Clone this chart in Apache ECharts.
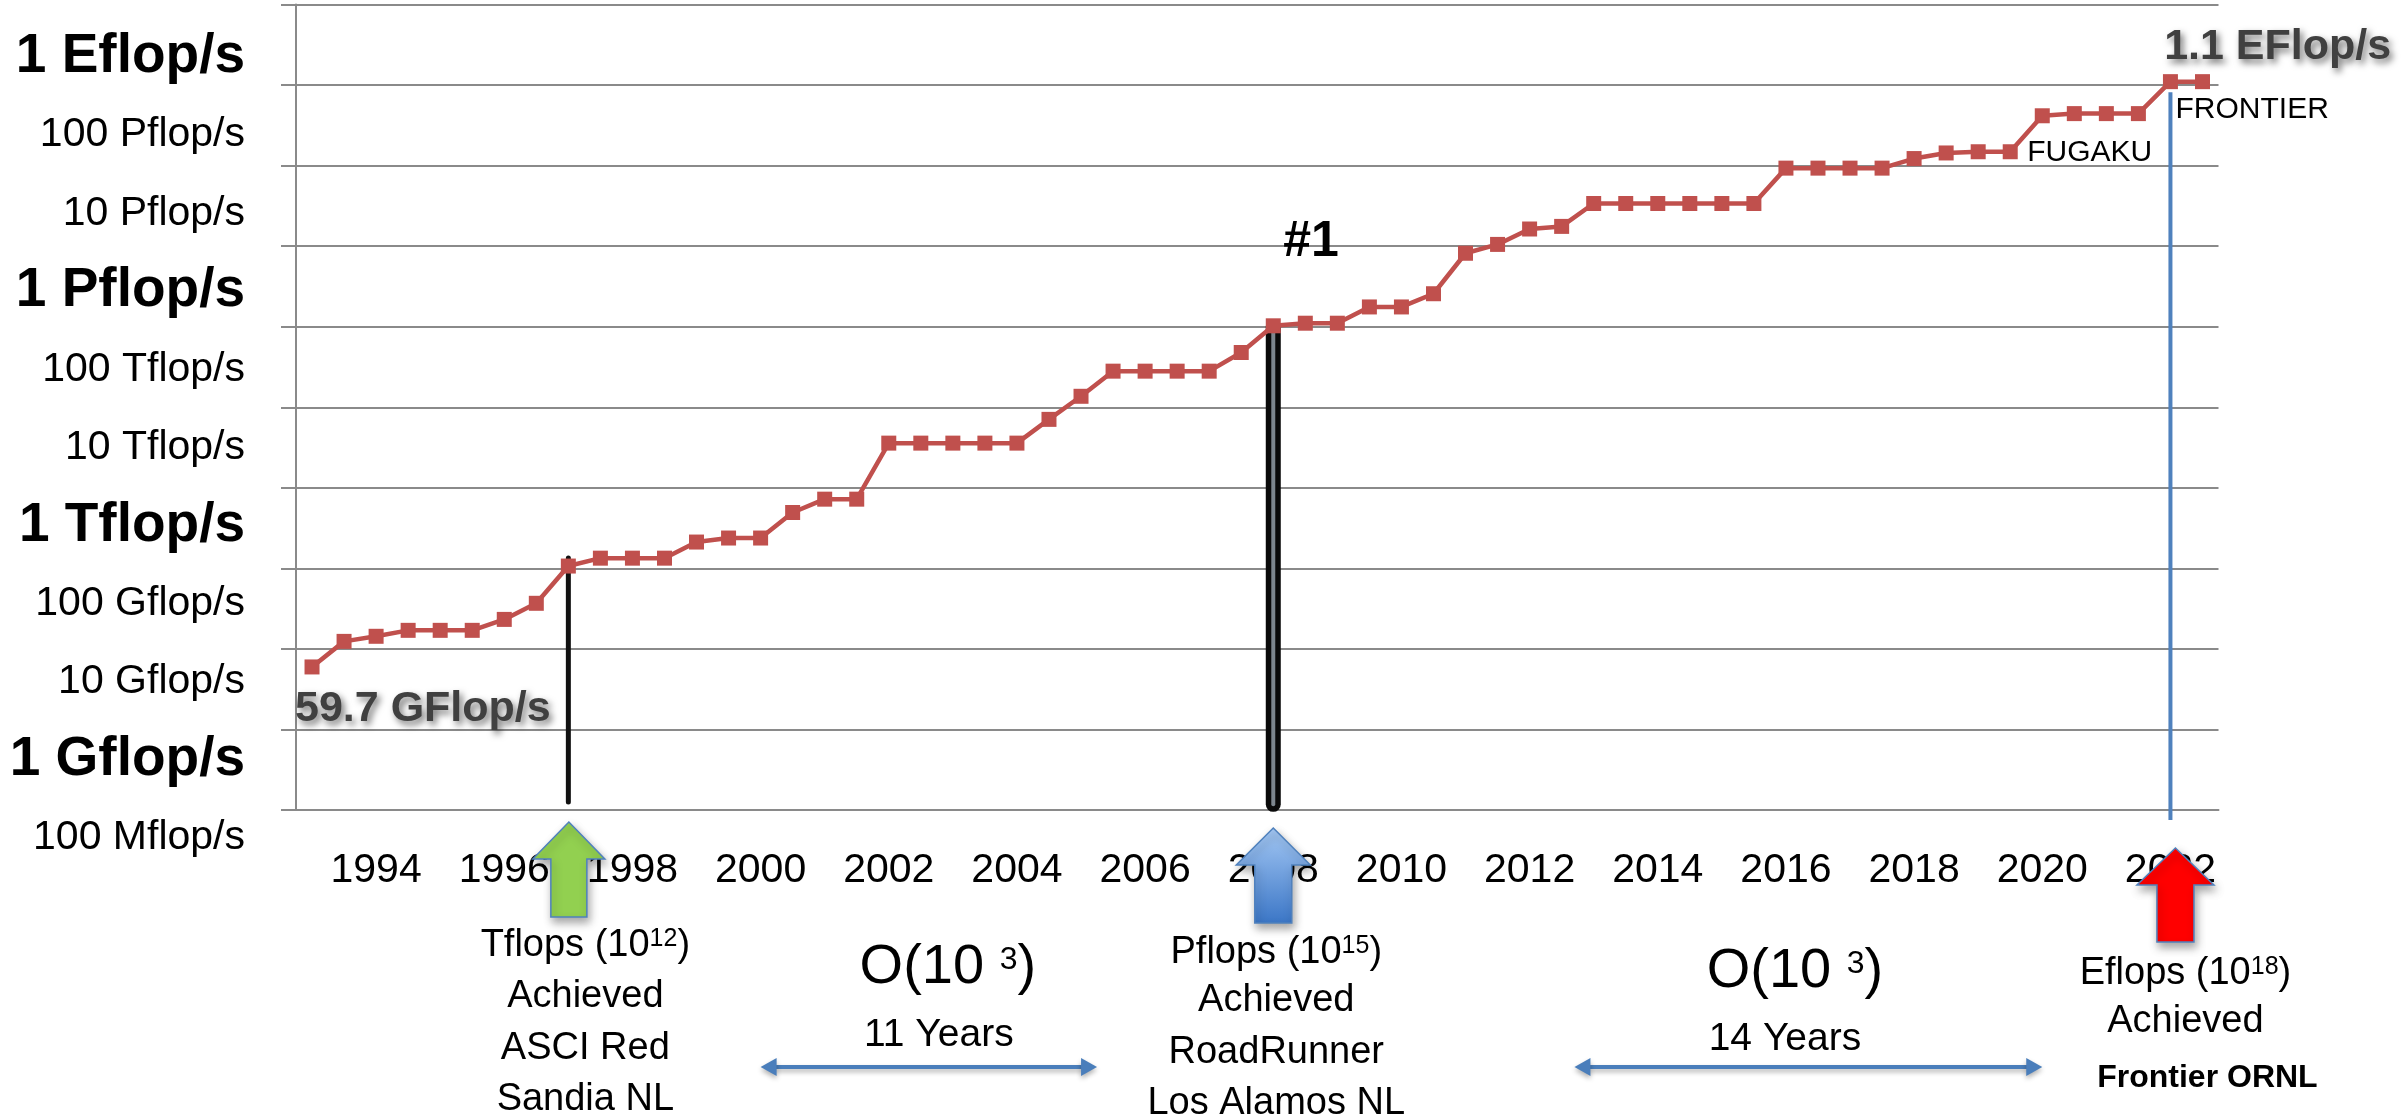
<!DOCTYPE html>
<html>
<head>
<meta charset="utf-8">
<title>TOP500 #1 performance, 1993–2022</title>
<script src="https://cdn.jsdelivr.net/npm/echarts@6/dist/echarts.min.js"></script>
<style>
  html, body { margin: 0; padding: 0; background: #ffffff; }
  #chart { width: 2405px; height: 1117px; }
</style>
</head>
<body>
<div id="chart"></div>
<script>
// TOP500 list editions (June / November) from the first list onwards
const lists = [
  '1993/06','1993/11','1994/06','1994/11','1995/06','1995/11','1996/06','1996/11',
  '1997/06','1997/11','1998/06','1998/11','1999/06','1999/11','2000/06','2000/11',
  '2001/06','2001/11','2002/06','2002/11','2003/06','2003/11','2004/06','2004/11',
  '2005/06','2005/11','2006/06','2006/11','2007/06','2007/11','2008/06','2008/11',
  '2009/06','2009/11','2010/06','2010/11','2011/06','2011/11','2012/06','2012/11',
  '2013/06','2013/11','2014/06','2014/11','2015/06','2015/11','2016/06','2016/11',
  '2017/06','2017/11','2018/06','2018/11','2019/06','2019/11','2020/06','2020/11',
  '2021/06','2021/11','2022/06','2022/11'
];

// Rmax of the #1 system on each list, in GFlop/s
const rmaxGflops = [
  59.7, 124.0, 143.4, 170.0, 170.0, 170.0, 232.4, 368.2,
  1068, 1338, 1338, 1338, 2121, 2379, 2379, 4938,
  7226, 7226, 35860, 35860, 35860, 35860, 35860, 70720,
  136800, 280600, 280600, 280600, 280600, 478200, 1026000, 1105000,
  1105000, 1759000, 1759000, 2566000, 8162000, 10510000, 16324750, 17590000,
  33862700, 33862700, 33862700, 33862700, 33862700, 33862700, 93014600, 93014600,
  93014600, 93014600, 122300000, 143500000, 148600000, 148600000, 415530000, 442010000,
  442010000, 442010000, 1102000000, 1102000000
];

// Performance scale captions, 10^8 ... 10^18 flop/s
const yTickLabels = [
  '100 Mflop/s', '1 Gflop/s', '10 Gflop/s', '100 Gflop/s', '1 Tflop/s', '10 Tflop/s',
  '100 Tflop/s', '1 Pflop/s', '10 Pflop/s', '100 Pflop/s', '1 Eflop/s'
];

// Notes attached to individual list entries
const pointNotes = [
  { list: '1993/06', text: '59.7 GFlop/s', kind: 'value' },
  { list: '2008/06', text: '#1',           kind: 'rank'  },
  { list: '2020/06', text: 'FUGAKU',       kind: 'name'  },
  { list: '2022/06', text: '1.1 EFlop/s',  kind: 'value' },
  { list: '2022/11', text: 'FRONTIER',     kind: 'name'  }
];

// Milestones marked under the time axis
const milestones = [
  { list: '1997/06', lines: ['Tflops (10{sup|12})', 'Achieved', 'ASCI Red', 'Sandia NL'] },
  { list: '2008/06', lines: ['Pflops (10{sup|15})', 'Achieved', 'RoadRunner', 'Los Alamos NL'] },
  { list: '2022/06', lines: ['Eflops (10{sup|18})', 'Achieved', '{b|Frontier ORNL}'] }
];

// Growth between milestones: factor 10^exp over the given years
const spans = [
  { exp: '3', years: '11 Years' },
  { exp: '3', years: '14 Years' }
];

const FONT = '"Liberation Sans", Arial, sans-serif';
const toExp = g => Math.log10(g * 1e9);   // GFlop/s -> log10(flop/s)

// label placement (relative to the marker box) and styling per note kind
const notePlacement = {
  '1993/06': [-9.5, 50],
  '2008/06': [17.5, -76],
  '2020/06': [-7.5, 44.2],
  '2022/06': [1.2, -27.5],
  '2022/11': [-19.5, 35.8]
};
const noteStyle = {
  value: { fontSize: 43, fontWeight: 'bold', color: '#404040',
           textShadowColor: 'rgba(0,0,0,0.55)', textShadowBlur: 7,
           textShadowOffsetX: 3, textShadowOffsetY: 4 },
  rank:  { fontSize: 50, fontWeight: 'bold', color: '#000000' },
  name:  { fontSize: 30, fontWeight: 'normal', color: '#000000' }
};

const seriesData = rmaxGflops.map((g, i) => {
  const item = { value: toExp(g) };
  const note = pointNotes.find(n => n.list === lists[i]);
  if (note) {
    item.label = Object.assign({
      show: true,
      position: notePlacement[note.list],
      align: 'left',
      verticalAlign: 'middle',
      fontFamily: FONT,
      formatter: note.text
    }, noteStyle[note.kind]);
  }
  return item;
});

const idx = name => lists.indexOf(name);
const GRID_COLOR = '#8a8a8a';

const chart = echarts.init(document.getElementById('chart'), null, { renderer: 'canvas' });

chart.setOption({
  animation: false,
  backgroundColor: '#ffffff',
  grid: [
    { left: 296, right: 186.5, top: 4.5, bottom: 307 },
    { left: 250, width: 10, top: 57, bottom: 279 }
  ],
  xAxis: [
    {
      type: 'category',
      gridIndex: 0,
      data: lists,
      boundaryGap: true,
      axisLine: { lineStyle: { color: GRID_COLOR, width: 2 } },
      axisTick: { interval: 1, length: 15, lineStyle: { color: GRID_COLOR, width: 2 } },
      axisLabel: {
        interval: i => i % 4 === 2,
        formatter: v => v.slice(0, 4),
        margin: 40,
        fontSize: 41,
        fontFamily: FONT,
        color: '#000000'
      },
      splitLine: { show: false }
    },
    { type: 'value', gridIndex: 1, show: false, min: 0, max: 1 }
  ],
  yAxis: [
    {
      type: 'value',
      gridIndex: 0,
      min: 9,
      max: 19,
      interval: 1,
      axisLine: { show: true, lineStyle: { color: GRID_COLOR, width: 2 } },
      axisTick: { show: true, length: 15, lineStyle: { color: GRID_COLOR, width: 2 } },
      axisLabel: { show: false },
      splitLine: { show: true, lineStyle: { color: GRID_COLOR, width: 2 } }
    },
    {
      // caption scale for the performance levels
      type: 'value',
      gridIndex: 1,
      min: 8,
      max: 18,
      interval: 1,
      axisLine: { show: false },
      axisTick: { show: false },
      splitLine: { show: false },
      axisLabel: {
        margin: 5,
        formatter: v => {
          const t = yTickLabels[Math.round(v - 8)];
          return t.startsWith('1 ') ? '{big|' + t + '}' : '{small|' + t + '}';
        },
        rich: {
          big:   { fontSize: 55, fontWeight: 'bold', fontFamily: FONT, color: '#000' },
          small: { fontSize: 41, fontFamily: FONT, color: '#000' }
        }
      }
    }
  ],
  series: [
    {
      // ASCI Red marker line
      type: 'line', xAxisIndex: 0, yAxisIndex: 0, clip: false, silent: true, z: 3,
      symbol: 'none',
      data: [[idx('1997/06'), 9.1], [idx('1997/06'), 12.13]],
      lineStyle: { color: '#111111', width: 5, cap: 'round' }
    },
    {
      // RoadRunner marker bar
      type: 'line', xAxisIndex: 0, yAxisIndex: 0, clip: false, silent: true, z: 3,
      symbol: 'none',
      data: [[idx('2008/06'), 9.07], [idx('2008/06'), 15.0]],
      lineStyle: { color: '#0a0a0a', width: 15, cap: 'round' }
    },
    {
      type: 'line', xAxisIndex: 0, yAxisIndex: 0, clip: false, silent: true, z: 3,
      symbol: 'none',
      data: [[idx('2008/06'), 9.07], [idx('2008/06'), 15.0]],
      lineStyle: { color: '#7d868e', width: 4, cap: 'round' }
    },
    {
      // Frontier marker line
      type: 'line', xAxisIndex: 0, yAxisIndex: 0, clip: false, silent: true, z: 3,
      symbol: 'none',
      data: [[idx('2022/06'), 8.876], [idx('2022/06'), 17.91]],
      lineStyle: { color: '#4f81bd', width: 4, cap: 'butt' }
    },
    {
      name: 'Rmax #1',
      type: 'line',
      xAxisIndex: 0,
      yAxisIndex: 0,
      z: 5,
      data: seriesData,
      symbol: 'rect',
      symbolSize: 15,
      lineStyle: { color: '#c0504d', width: 4.5 },
      itemStyle: { color: '#c0504d' },
      labelLayout: { hideOverlap: false }
    }
  ]
});

// ---- annotations below the time axis ----
const px = i => chart.convertToPixel({ xAxisIndex: 0 }, i);
const band = px(1) - px(0);
const axisY = chart.convertToPixel({ yAxisIndex: 0 }, 9);

const shadow = { shadowBlur: 8, shadowOffsetX: 2, shadowOffsetY: 5, shadowColor: 'rgba(0,0,0,0.35)' };

function upArrow(cx, tip, head, bottom, headHalf, shaftHalf, fill) {
  return {
    type: 'polygon',
    z: 10,
    shape: {
      points: [
        [cx, tip], [cx + headHalf, head], [cx + shaftHalf, head], [cx + shaftHalf, bottom],
        [cx - shaftHalf, bottom], [cx - shaftHalf, head], [cx - headHalf, head]
      ]
    },
    style: Object.assign({ fill: fill, stroke: '#4f81bd', lineWidth: 1.5 }, shadow)
  };
}

function textLine(x, y, text, size, weight) {
  return {
    type: 'text',
    z: 10,
    style: {
      x: x, y: y, text: text,
      fontSize: size, fontFamily: FONT, fontWeight: weight || 'normal',
      fill: '#000000', align: 'center', verticalAlign: 'middle',
      rich: {
        sup: { fontSize: 25, fontFamily: FONT, verticalAlign: 'top', fill: '#000' },
        b:   { fontSize: 32, fontFamily: FONT, fontWeight: 'bold', fill: '#000' }
      }
    }
  };
}

function doubleArrow(x1, x2, y) {
  const c = '#4a7ebb', L = 16, H = 9;
  const sh = { shadowBlur: 5, shadowOffsetY: 3, shadowColor: 'rgba(0,0,0,0.3)' };
  return [
    { type: 'line', z: 9, shape: { x1: x1 + L - 2, y1: y, x2: x2 - L + 2, y2: y },
      style: Object.assign({ stroke: c, lineWidth: 4 }, sh) },
    { type: 'polygon', z: 9, shape: { points: [[x1, y], [x1 + L, y - H], [x1 + L, y + H]] },
      style: Object.assign({ fill: c }, sh) },
    { type: 'polygon', z: 9, shape: { points: [[x2, y], [x2 - L, y - H], [x2 - L, y + H]] },
      style: Object.assign({ fill: c }, sh) }
  ];
}

const graphics = [];

// milestone arrows
const xT = px(idx(milestones[0].list));
const xP = px(idx(milestones[1].list));
const xE = px(idx(milestones[2].list));
graphics.push(upArrow(xT + 0.5, axisY + 12, axisY + 49, axisY + 107, 36, 18, '#92d050'));
graphics.push(upArrow(xP, axisY + 18, axisY + 55, axisY + 113, 37, 18.5, {
  type: 'linear', x: 0, y: 0, x2: 0, y2: 1,
  colorStops: [{ offset: 0, color: '#a4c8f4' }, { offset: 1, color: '#3b76c6' }]
}));
graphics.push(upArrow(xE + 5, axisY + 38, axisY + 75, axisY + 132, 38.5, 18.5, '#ff0000'));

// milestone captions
const captionLayout = [
  { dx: 17, ys: [136, 187, 239, 290] },
  { dx: 3,  ys: [143, 191, 243, 294] },
  { dx: 15, ys: [164, 212, 268] }
];
milestones.forEach((m, k) => {
  const cx = px(idx(m.list)) + captionLayout[k].dx;
  m.lines.forEach((line, j) => {
    const isBold = line.startsWith('{b|');
    graphics.push(textLine(cx + (isBold ? 22 : 0), axisY + captionLayout[k].ys[j], line, 38));
  });
});

// growth spans between milestones
const spanLayout = [
  { x1: px(14), x2: px(24) + band / 2, fx: px(20) - 5, yx: px(20) - 14, fy: 158, yy: 225 },
  { x1: px(39) + 0.4 * band, x2: px(54), fx: px(46) + 9, yx: px(46) - 1, fy: 162, yy: 229 }
];
spans.forEach((s, k) => {
  const L = spanLayout[k];
  graphics.push(...doubleArrow(L.x1, L.x2, axisY + 257));
  graphics.push({
    type: 'text', z: 10,
    style: {
      x: L.fx, y: axisY + L.fy,
      text: '{b|O(10 }{s|' + s.exp + '}{b|)}',
      align: 'center', verticalAlign: 'middle',
      rich: {
        b: { fontSize: 56, fontFamily: FONT, fill: '#000', lineHeight: 60 },
        s: { fontSize: 32, fontFamily: FONT, fill: '#000', verticalAlign: 'top', lineHeight: 60, padding: [6, 0, 0, 0] }
      }
    }
  });
  graphics.push(textLine(L.yx, axisY + L.yy, s.years, 39));
});

chart.setOption({ graphic: graphics });
</script>
</body>
</html>
